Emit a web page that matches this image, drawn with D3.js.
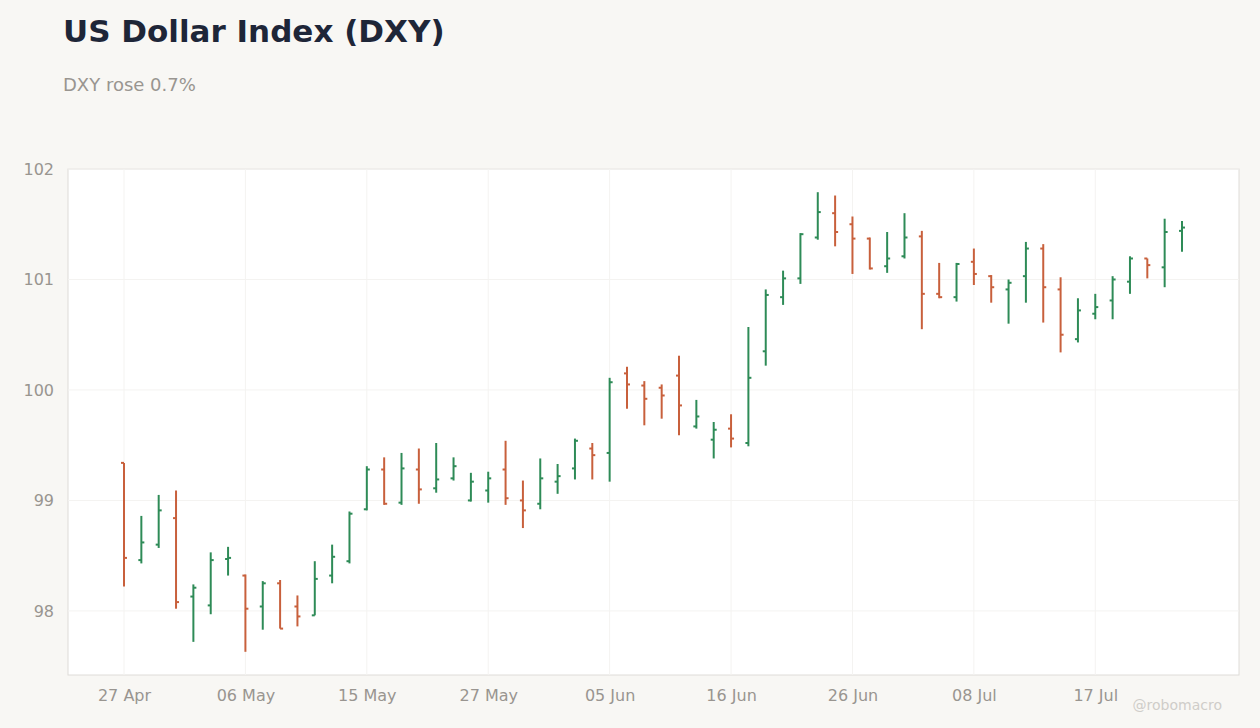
<!DOCTYPE html>
<html>
<head>
<meta charset="utf-8">
<script src="https://cdn.jsdelivr.net/npm/d3@7"></script>
<style>
  body { margin: 0; background: #f8f7f4; font-family: "DejaVu Sans", sans-serif; }
  .axis text { fill: #999590; font-size: 16px; font-family: "DejaVu Sans", sans-serif; }
  .axis path, .axis line { display: none; }
</style>
</head>
<body>
<div id="chart"></div>
<script>
// trading days (US holidays skipped)
const dates = [
  "2026-04-27","2026-04-28","2026-04-29","2026-04-30","2026-05-01",
  "2026-05-04","2026-05-05","2026-05-06","2026-05-07","2026-05-08",
  "2026-05-11","2026-05-12","2026-05-13","2026-05-14","2026-05-15",
  "2026-05-18","2026-05-19","2026-05-20","2026-05-21","2026-05-22",
  "2026-05-26","2026-05-27","2026-05-28","2026-05-29",
  "2026-06-01","2026-06-02","2026-06-03","2026-06-04","2026-06-05",
  "2026-06-08","2026-06-09","2026-06-10","2026-06-11","2026-06-12",
  "2026-06-15","2026-06-16","2026-06-17","2026-06-18",
  "2026-06-22","2026-06-23","2026-06-24","2026-06-25","2026-06-26",
  "2026-06-29","2026-06-30","2026-07-01","2026-07-02",
  "2026-07-06","2026-07-07","2026-07-08","2026-07-09","2026-07-10",
  "2026-07-13","2026-07-14","2026-07-15","2026-07-16","2026-07-17",
  "2026-07-20","2026-07-21","2026-07-22","2026-07-23","2026-07-24"
];
const opens = [99.34,98.46,98.60,98.84,98.13,98.05,98.47,98.32,98.04,98.25,98.04,97.96,98.32,98.45,98.92,
  99.28,98.98,99.28,99.11,99.20,99.00,99.09,99.28,99.00,98.97,99.17,99.29,99.47,99.43,100.15,
  100.04,100.02,100.13,99.67,99.55,99.65,99.52,100.35,100.84,101.01,101.38,101.60,101.50,101.37,101.12,
  101.21,101.39,100.87,100.84,101.16,101.03,100.91,101.03,101.28,100.91,100.46,100.69,100.81,100.98,101.19,
  101.11,101.44];
const highs = [99.34,98.86,99.05,99.09,98.24,98.53,98.58,98.33,98.27,98.28,98.14,98.45,98.60,98.90,99.31,
  99.39,99.43,99.47,99.52,99.39,99.25,99.26,99.54,99.18,99.38,99.33,99.56,99.52,100.11,100.21,
  100.08,100.05,100.31,99.91,99.71,99.78,100.57,100.91,101.08,101.42,101.79,101.76,101.57,101.38,101.43,
  101.60,101.44,101.15,101.15,101.28,101.04,101.00,101.34,101.32,101.02,100.83,100.87,101.03,101.21,101.19,
  101.55,101.53];
const lows = [98.22,98.43,98.57,98.02,97.72,97.97,98.32,97.63,97.83,97.84,97.86,97.96,98.25,98.43,98.91,
  98.96,98.96,98.97,99.07,99.18,98.99,98.98,98.96,98.75,98.92,99.06,99.19,99.19,99.17,99.83,
  99.68,99.74,99.59,99.65,99.38,99.48,99.49,100.22,100.77,100.96,101.36,101.30,101.05,101.09,101.06,
  101.19,100.55,100.83,100.80,100.95,100.79,100.60,100.79,100.61,100.34,100.43,100.64,100.64,100.87,101.01,
  100.93,101.25];
const closes = [98.48,98.62,98.91,98.08,98.21,98.46,98.48,98.02,98.25,97.84,97.95,98.29,98.49,98.88,99.28,
  98.97,99.29,99.10,99.19,99.31,99.17,99.20,99.02,98.91,99.20,99.22,99.54,99.41,100.07,100.05,
  99.92,99.95,99.86,99.76,99.64,99.56,100.11,100.86,101.01,101.41,101.61,101.43,101.37,101.10,101.19,
  101.38,100.87,100.84,101.14,101.05,100.93,100.97,101.28,100.93,100.50,100.72,100.75,101.00,101.19,101.13,
  101.43,101.47];
const yTicks = [98, 99, 100, 101, 102];

const W = 1260, H = 728;
const margin = {top: 169, right: 21, bottom: 53, left: 68};
const width = W - margin.left - margin.right;
const height = H - margin.top - margin.bottom;

const svg = d3.select("#chart").append("svg")
  .attr("width", W).attr("height", H);

svg.append("text").attr("x", 63).attr("y", 42)
  .attr("font-size", 31).attr("font-weight", "bold").attr("fill", "#1e2638")
  .text("US Dollar Index (DXY)");
svg.append("text").attr("x", 63).attr("y", 91)
  .attr("font-size", 18).attr("fill", "#999590")
  .text("DXY rose 0.7%");

const g = svg.append("g").attr("transform", `translate(${margin.left},${margin.top})`);

g.append("rect").attr("width", width).attr("height", height)
  .attr("fill", "#fff").attr("stroke", "#dedcd8");

const x = d3.scalePoint().domain(dates).range([56, 1114]);
const y = d3.scaleLinear().domain([97.42, 102]).range([height, 0]);

const tickDates = dates.filter((d, i) => i % 7 === 0);
const fmt = d3.utcFormat("%d %b");

g.selectAll(".vgrid").data(tickDates).enter().append("line")
  .attr("x1", d => x(d)).attr("x2", d => x(d))
  .attr("y1", 0).attr("y2", height).attr("stroke", "#f4f3f1");
g.selectAll(".hgrid").data(yTicks).enter().append("line")
  .attr("x1", 0).attr("x2", width)
  .attr("y1", d => y(d)).attr("y2", d => y(d)).attr("stroke", "#f4f3f1");

g.append("g").attr("class", "axis")
  .attr("transform", `translate(0,${height})`)
  .call(d3.axisBottom(x).tickValues(tickDates).tickFormat(d => fmt(new Date(d))).tickSize(0).tickPadding(15));
g.append("g").attr("class", "axis")
  .call(d3.axisLeft(y).tickValues(yTicks).tickFormat(d3.format("d")).tickSize(0).tickPadding(14));

const data = dates.map((d, i) => ({d, o: opens[i], h: highs[i], l: lows[i], c: closes[i]}));
const col = d => d.c >= d.o ? "#2e8b57" : "#c8603c";

const bars = g.selectAll(".bar").data(data).enter().append("g").attr("stroke", col).attr("stroke-width", 2);
bars.append("line").attr("x1", d => x(d.d)).attr("x2", d => x(d.d))
  .attr("y1", d => y(d.h)).attr("y2", d => y(d.l));
bars.append("line").attr("x1", d => x(d.d) - 3).attr("x2", d => x(d.d))
  .attr("y1", d => y(d.o)).attr("y2", d => y(d.o));
bars.append("line").attr("x1", d => x(d.d)).attr("x2", d => x(d.d) + 3)
  .attr("y1", d => y(d.c)).attr("y2", d => y(d.c));

svg.append("text").attr("x", 1222).attr("y", 710).attr("text-anchor", "end")
  .attr("font-size", 14).attr("fill", "#cfcdc9").text("@robomacro");
</script>
</body>
</html>
